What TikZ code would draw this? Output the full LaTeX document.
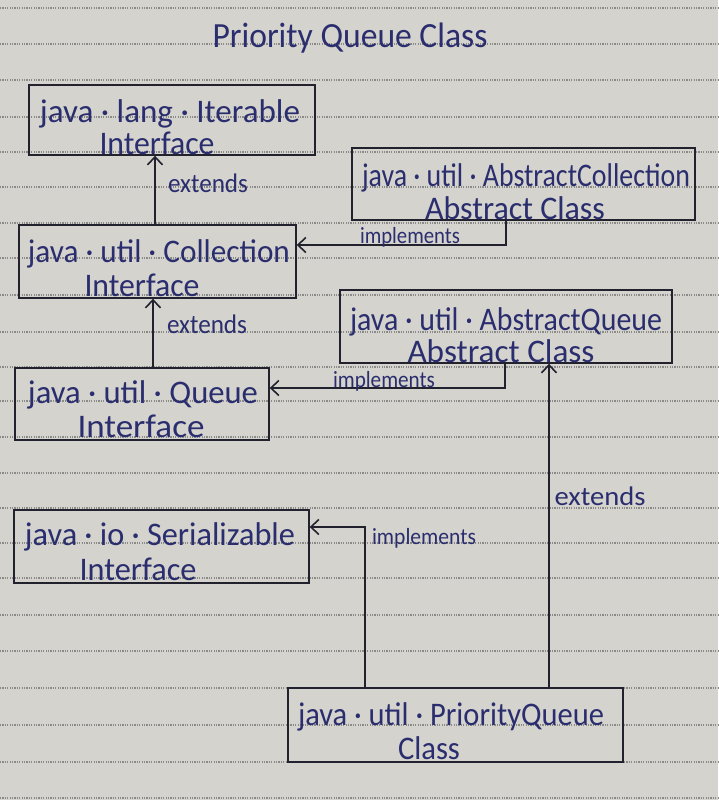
\documentclass[tikz,border=0pt]{standalone}
\usepackage{fontspec}
\setmainfont{Carlito}
\usetikzlibrary{arrows.meta}

\definecolor{paper}{HTML}{D4D3CD}
\definecolor{ink}{HTML}{2A2D6E}
\definecolor{pen}{HTML}{22222F}
\definecolor{ruling}{HTML}{8A8A88}

% set a text at a fixed width, slightly stretched upwards like handwriting
\newsavebox\hwbox
\newcommand\hw[2]{%
  \sbox\hwbox{#2}%
  \pgfmathsetmacro\hwratio{#1/\the\wd\hwbox}%
  \scalebox{\hwratio}[1.22]{\usebox\hwbox}}

\tikzset{
  box/.style={draw=pen, line width=1.7pt, inner sep=0pt, anchor=north west},
  txt/.style={text=ink, inner sep=0pt, anchor=base, font=\fontsize{27}{30}\selectfont},
  lbl/.style={txt, font=\fontsize{22}{24}\selectfont},
  lblsmall/.style={txt, font=\fontsize{19}{21}\selectfont},
  conn/.style={draw=pen, line width=1.6pt},
  arr/.style={conn, -{Straight Barb[length=8pt, width=15pt, line width=1.6pt]}},
  ruled/.style={draw=ruling, line width=1.3pt, dash pattern=on 1.2pt off 1.2pt}
}

\begin{document}
\begin{tikzpicture}[x=1pt, y=-1pt]
  % paper
  \fill[paper] (0,0) rectangle (718,800);
  \useasboundingbox (0,0) rectangle (718,800);
  \foreach \ry in {8,44,80,117,152,187,223,258,295,332,367,401,437,473,508,543,578,615,651,688,725,762,798}
    \draw[ruled] (0,\ry) -- (718,\ry);

  % title
  \node[txt, font=\fontsize{29}{32}\selectfont] (title) at (350,48) {\hw{275pt}{Priority Queue Class}};

  % boxes
  \node[box, minimum width=286pt, minimum height=70pt] (iter) at (28,84) {};
  \node[box, minimum width=343pt, minimum height=72pt] (ac) at (351,147) {};
  \node[box, minimum width=277pt, minimum height=73pt] (coll) at (18,224) {};
  \node[box, minimum width=332pt, minimum height=73pt] (aq) at (339,289) {};
  \node[box, minimum width=254pt, minimum height=72pt] (queue) at (14,367) {};
  \node[box, minimum width=295pt, minimum height=73pt] (ser) at (13,509) {};
  \node[box, minimum width=335pt, minimum height=74pt] (pq) at (287,687) {};

  % box texts
  \node[txt] (iter-a) at (170,122) {\hw{260pt}{java · lang · Iterable}};
  \node[txt] (iter-b) at (157,154) {\hw{115pt}{Interface}};
  \node[txt] (ac-a) at (526,186) {\hw{328pt}{java · util · AbstractCollection}};
  \node[txt] (ac-b) at (515,219) {\hw{180pt}{Abstract Class}};
  \node[txt] (coll-a) at (159,262) {\hw{262pt}{java · util · Collection}};
  \node[txt] (coll-b) at (142,296) {\hw{115pt}{Interface}};
  \node[txt] (aq-a) at (506,330) {\hw{312pt}{java · util · AbstractQueue}};
  \node[txt] (aq-b) at (501,362) {\hw{187pt}{Abstract Class}};
  \node[txt] (queue-a) at (143,403) {\hw{230pt}{java · util · Queue}};
  \node[txt] (queue-b) at (141,437) {\hw{127pt}{Interface}};
  \node[txt] (ser-a) at (160,545) {\hw{270pt}{java · io · Serializable}};
  \node[txt] (ser-b) at (138,580) {\hw{117pt}{Interface}};
  \node[txt] (pq-a) at (451,725) {\hw{306pt}{java · util · PriorityQueue}};
  \node[txt] (pq-b) at (429,759) {\hw{62pt}{Class}};

  % connector routing points
  \coordinate (x1) at (155,0);
  \coordinate (x2) at (153,0);
  \coordinate (x3) at (549,0);
  \coordinate (b1) at (506,245);
  \coordinate (b2) at (505,388);
  \coordinate (b3) at (365,527);

  % extends
  \draw[arr] (x1 |- coll.north) -- (x1 |- iter.south);
  \draw[arr] (x2 |- queue.north) -- (x2 |- coll.south);
  \draw[arr] (x3 |- pq.north) -- (x3 |- aq.south);

  % implements
  \draw[arr] (b1 |- ac.south) -- (b1) -- (b1 -| coll.east);
  \draw[arr] (b2 |- aq.south) -- (b2) -- (b2 -| queue.east);
  \draw[arr] (b3 |- pq.north) -- (b3) -- (b3 -| ser.east);

  % connector labels
  \node[lbl] (ext1) at (208,192) {\hw{80pt}{extends}};
  \node[lbl] (ext2) at (207,333) {\hw{80pt}{extends}};
  \node[lbl] (ext3) at (600,505) {\hw{91pt}{extends}};
  \node[lblsmall] (imp1) at (410,243) {\hw{100pt}{implements}};
  \node[lblsmall] (imp2) at (384,387) {\hw{102pt}{implements}};
  \node[lblsmall] (imp3) at (424,544) {\hw{104pt}{implements}};
\end{tikzpicture}
\end{document}
